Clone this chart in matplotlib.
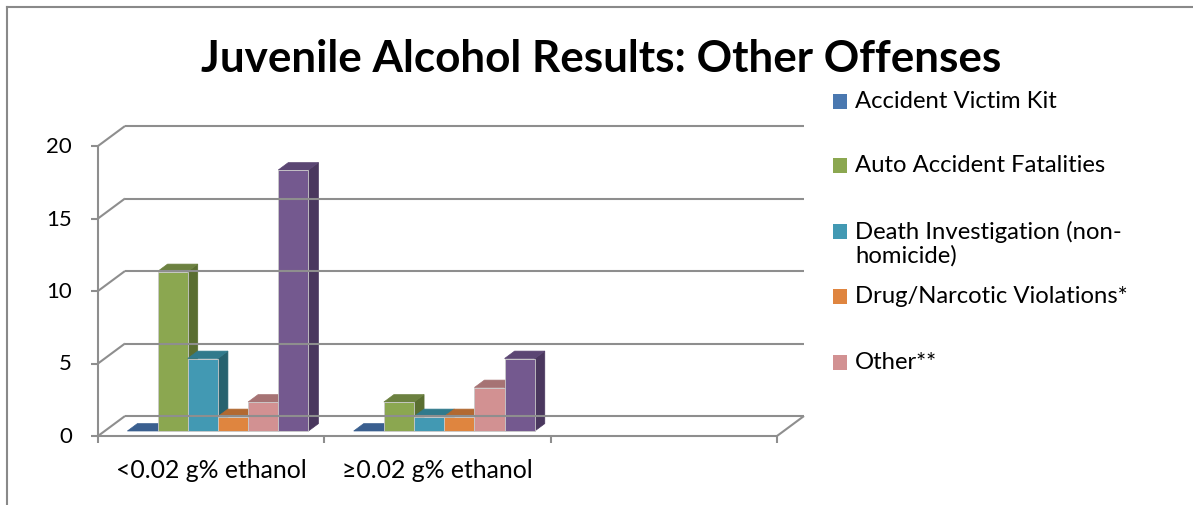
import numpy as np
import matplotlib.pyplot as plt
from matplotlib.patches import Polygon, Rectangle
from matplotlib.lines import Line2D

plt.rcParams['font.family'] = ['Lato', 'DejaVu Sans']

# data
categories = ['<0.02 g% ethanol', '\u22650.02 g% ethanol', '']
series_names = ['Accident Victim Kit', 'Auto Accident Fatalities',
                'Death Investigation (non-\nhomicide)', 'Drug/Narcotic Violations*',
                'Other**']
accident_victim_kit = [0, 0]
auto_fatalities = [11, 2]
death_investigation = [5, 1]
drug_violations = [1, 1]
other = [2, 3]
sixth_series = [18, 5]   # purple bars, no legend entry in the original
y_ticks = [0, 5, 10, 15, 20]

values = [accident_victim_kit, auto_fatalities, death_investigation,
          drug_violations, other, sixth_series]
# front, side, top colours
colors = [('#4A78B0', '#2F4F78', '#3A5F8F'),
          ('#8BA750', '#5A6E31', '#6C8140'),
          ('#4299B3', '#27626F', '#317A8C'),
          ('#DF853F', '#A85D28', '#B26931'),
          ('#D29192', '#9E6A6B', '#A67374'),
          ('#74598F', '#4A375E', '#5B4673')]

W, H = 1193, 506
fig = plt.figure(figsize=(W / 100, H / 100), dpi=100)
ax = fig.add_axes([98 / W, (H - 437) / H, 679 / W, 290 / H])
ax.set_xlim(0, len(categories))
ax.set_ylim(0, 20)
ax.axis('off')

sx = 679 / len(categories)   # px per category
sy = 290 / 20                # px per unit
DX, DY = 27 / sx, 20 / sy    # depth of the 3d box
grid_c = '#8E8E8E'
lw = 1.5

def line(xs, ys):
    ax.add_line(Line2D(xs, ys, color=grid_c, lw=lw, clip_on=False,
                       solid_capstyle='butt'))

# walls / gridlines
ncat = len(categories)
for v in y_ticks:
    line([DX, ncat + DX], [v + DY, v + DY])
    line([0, DX], [v, v + DY])
    line([-7 / sx, 0], [v, v])
    ax.text(-26 / sx, v, str(v), ha='right', va='center', fontsize=16)
line([0, ncat], [0, 0])
line([ncat, ncat + DX], [0, DY])
line([0, 0], [0, 20])
for i in range(ncat + 1):
    line([i, i], [0, -7 / sy])
for i, c in enumerate(categories):
    ax.text(i + 0.5, -34 / sy, c, ha='center', va='center', fontsize=17.8)

# bars
nser = len(values)
w = 0.8 / nser
f0, fd = 0.25, 0.37
for s, vals in enumerate(values):
    fc, sc, tc = colors[s]
    for g, v in enumerate(vals):
        x0 = g + 0.5 + (s - nser / 2) * w + f0 * DX
        y0 = f0 * DY
        ddx, ddy = fd * DX, fd * DY
        ax.add_patch(Polygon([(x0 + w, y0), (x0 + w + ddx, y0 + ddy),
                              (x0 + w + ddx, y0 + v + ddy), (x0 + w, y0 + v)],
                             closed=True, fc=sc, ec=sc, lw=0.5, clip_on=False))
        ax.add_patch(Polygon([(x0, y0 + v), (x0 + w, y0 + v),
                              (x0 + w + ddx, y0 + v + ddy), (x0 + ddx, y0 + v + ddy)],
                             closed=True, fc=tc, ec=tc, lw=0.5, clip_on=False))
        if v > 0:
            ax.add_patch(Rectangle((x0, y0), w, v, fc=fc, ec='#C9C9C9',
                                   lw=0.6, clip_on=False))

# title
fig.text(601 / W, 1 - 72 / H, 'Juvenile Alcohol Results: Other Offenses',
         ha='center', va='baseline', fontsize=31.7, fontweight='bold')

# legend
leg_y = [102, 166, 232, 297, 363]
for name, (fc, _, _), y in zip(series_names, colors, leg_y):
    fig.patches.append(Rectangle((833 / W, 1 - (y + 8) / H), 14 / W, 15 / H,
                                 fc=fc, ec='none', transform=fig.transFigure))
    fig.text(855 / W, 1 - (y - 11) / H, name, ha='left', va='top',
             fontsize=17.2, linespacing=1.1)

# outer frame
fig.add_artist(Line2D([7 / W, 7 / W], [0, 1 - 8 / H], color='#898989', lw=1.5,
                      transform=fig.transFigure))
fig.add_artist(Line2D([7 / W, 1], [1 - 8 / H, 1 - 8 / H], color='#898989', lw=1.5,
                      transform=fig.transFigure))

fig.savefig('out.png', dpi=100)
